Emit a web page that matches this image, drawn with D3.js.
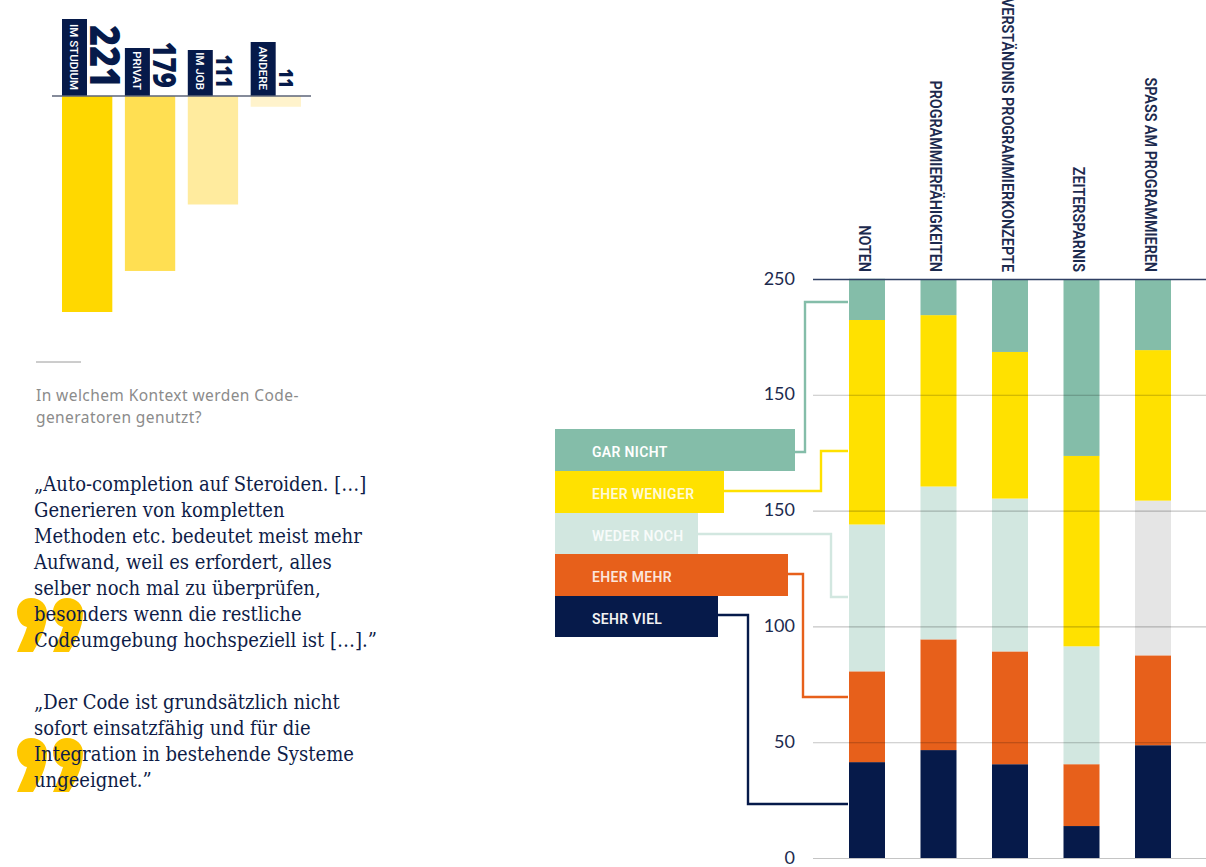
<!DOCTYPE html>
<html lang="de">
<head>
<meta charset="utf-8">
<script src="https://cdn.jsdelivr.net/npm/d3@7/dist/d3.min.js"></script>
<style>
html,body{margin:0;padding:0;background:#fff;overflow:hidden}
svg{display:block}
</style>
</head>
<body>
<svg id="chart" width="1206" height="867"></svg>
<script>
// ---------- data ----------
const contextLabels = ["IM STUDIUM", "PRIVAT", "IM JOB", "ANDERE"];
const contextValues = [221, 179, 111, 11];

const categories = ["NOTEN", "PROGRAMMIERFÄHIGKEITEN", "VERSTÄNDNIS PROGRAMMIERKONZEPTE", "ZEITERSPARNIS", "SPASS AM PROGRAMMIEREN"];
const sehrViel    = [41.4, 46.6, 40.5, 13.8, 48.7];
const eherMehr    = [39.2, 47.8, 48.7, 26.7, 38.8];
const wederNoch   = [63.4, 66.0, 66.0, 50.9, 66.8];
const eherWeniger = [88.3, 74.0, 63.3, 82.2, 65.0];
const garNicht    = [17.8, 15.6, 31.5, 76.4, 30.7];

const yTickValues = [0, 50, 100, 150, 200, 250];
const yTickLabels = ["0", "50", "100", "150", "150", "250"];

const subtitleLines = ["In welchem Kontext werden Code-", "generatoren genutzt?"];
const quoteOne = ["„Auto-completion auf Steroiden. […]", "Generieren von kompletten", "Methoden etc. bedeutet meist mehr", "Aufwand, weil es erfordert, alles", "selber noch mal zu überprüfen,", "besonders wenn die restliche", "Codeumgebung hochspeziell ist […].”"];
const quoteTwo = ["„Der Code ist grundsätzlich nicht", "sofort einsatzfähig und für die", "Integration in bestehende Systeme", "ungeeignet.”"];

// ---------- styles ----------
const NAVY = "#061a4a";
const COND = "'Roboto', sans-serif";
const SERIF = "'DejaVu Serif Condensed', 'DejaVu Serif', serif";
const contextColors = ["#ffd800", "#ffdf52", "#ffeb9e", "#fff3cc"];
const seriesKeys = ["sehrViel", "eherMehr", "wederNoch", "eherWeniger", "garNicht"];
const seriesColors = {sehrViel: NAVY, eherMehr: "#e7601b", wederNoch: "#d2e7e0", eherWeniger: "#ffe100", garNicht: "#84bda9"};
const seriesArrays = {sehrViel, eherMehr, wederNoch, eherWeniger, garNicht};

const svg = d3.select("#chart");

// ---------- top-left context chart ----------
const cx = d3.scaleBand().domain(contextLabels).range([62, 301]).paddingInner(0.2);
const cy = d3.scaleLinear().domain([0, 221]).range([96, 312]);
const cg = svg.append("g");
const boxTop = [19, 48, 50, 42];
const numSize = [42, 31, 22.5, 19.6];
contextValues.forEach((v, i) => {
  const x = cx(contextLabels[i]), w = cx.bandwidth();
  cg.append("rect").attr("x", x).attr("y", cy(0)).attr("width", w).attr("height", cy(v) - cy(0)).attr("fill", contextColors[i]);
  cg.append("rect").attr("x", x).attr("y", boxTop[i]).attr("width", 25).attr("height", 96 - boxTop[i]).attr("fill", NAVY);
  cg.append("text").attr("transform", `translate(${x + 12.5},90) rotate(90)`)
    .attr("text-anchor", "end").attr("dy", "0.35em").attr("fill", "#fff")
    .attr("font-family", COND).attr("font-weight", 500).attr("font-size", 11.5)
    .text(contextLabels[i]);
  cg.append("text").attr("transform", `translate(${x + 28},88) rotate(90) scale(.85,1)`)
    .attr("text-anchor", "end").attr("fill", NAVY)
    .attr("font-family", "'Open Sans', sans-serif").attr("font-weight", 800).attr("font-size", numSize[i])
    .text(v);
});
cg.append("line").attr("x1", 52).attr("x2", 311).attr("y1", 96).attr("y2", 96).attr("stroke", "#5c6478").attr("stroke-width", 1.3);

// ---------- subtitle ----------
svg.append("line").attr("x1", 36).attr("x2", 81).attr("y1", 362).attr("y2", 362).attr("stroke", "#9a9a9a").attr("stroke-width", 1);
svg.append("g").selectAll("text").data(subtitleLines).join("text")
  .attr("x", 36).attr("y", (d, i) => 401 + i * 22)
  .attr("font-family", "'Noto Sans', sans-serif").attr("font-size", 15.5).attr("fill", "#8b8b8b").attr("letter-spacing", 0.42)
  .text(d => d);

// ---------- quotes ----------
function quoteMark(ox, oy) {
  const p = d3.path();
  [0, 36].forEach(dx => {
    const x = ox + dx;
    p.moveTo(x + 14, oy);
    p.bezierCurveTo(x + 24, oy, x + 30, oy + 7, x + 30, oy + 15);
    p.bezierCurveTo(x + 30, oy + 30, x + 22, oy + 44, x + 16, oy + 54);
    p.lineTo(x, oy + 54);
    p.bezierCurveTo(x + 4, oy + 44, x + 8, oy + 36, x + 10, oy + 29);
    p.bezierCurveTo(x + 4, oy + 28, x, oy + 21, x, oy + 14);
    p.bezierCurveTo(x, oy + 6, x + 6, oy, x + 14, oy);
    p.closePath();
  });
  return p.toString();
}
svg.append("path").attr("d", quoteMark(17, 598)).attr("fill", "#ffc800");
svg.append("path").attr("d", quoteMark(17, 738)).attr("fill", "#ffc800");
function quoteText(lines, y0) {
  svg.append("g").selectAll("text").data(lines).join("text")
    .attr("x", 34).attr("y", (d, i) => y0 + i * 26)
    .attr("font-family", SERIF).attr("font-size", 20).attr("fill", "#0e1c47")
    .text(d => d);
}
quoteText(quoteOne, 491);
quoteText(quoteTwo, 709);

// ---------- stacked bars ----------
const x = d3.scaleBand().domain(categories).range([849, 1171]).paddingInner(0.4965);
const y = d3.scaleLinear().domain([0, 250]).range([858, 279]);

const table = categories.map((c, i) => {
  const row = {category: c};
  seriesKeys.forEach(k => row[k] = seriesArrays[k][i]);
  return row;
});
const stacked = d3.stack().keys(seriesKeys)(table);
svg.append("g").selectAll("g").data(stacked).join("g")
  .each(function(layer) {
    d3.select(this).selectAll("rect").data(layer).join("rect")
      .attr("x", d => x(d.data.category))
      .attr("width", x.bandwidth())
      .attr("y", d => y(d[1]))
      .attr("height", d => y(d[0]) - y(d[1]))
      .attr("fill", d => (layer.key === "wederNoch" && d.data.category === categories[4]) ? "#e5e5e5" : seriesColors[layer.key]);
  });

// axis drawn over the bars: the grid lines show faintly through the coloured segments
const yAxis = d3.axisLeft(y).tickValues(yTickValues)
  .tickFormat((d, i) => yTickLabels[i]).tickSize(-393).tickPadding(18);
const gy = svg.append("g").attr("transform", "translate(813,0)").call(yAxis);
gy.select(".domain").remove();
gy.selectAll(".tick line")
  .attr("stroke", d => d === 250 ? "#2f3f63" : "#000")
  .attr("stroke-opacity", d => d === 250 ? 1 : 0.23)
  .attr("stroke-width", d => d === 250 ? 1.6 : 1.1);
gy.selectAll(".tick text").attr("font-family", "'Lato', sans-serif").attr("font-size", 18).attr("dy", "0.28em").attr("fill", "#1c2a4e");

// category labels
svg.append("g").selectAll("text").data(categories).join("text")
  .attr("transform", d => `translate(${x(d) + x.bandwidth() / 2 - 2.5},272) rotate(90) scale(.87,1)`)
  .attr("text-anchor", "end").attr("dy", "0.35em")
  .attr("font-family", COND).attr("font-weight", 600).attr("font-size", 16.5).attr("fill", "#1c2a4e")
  .text(d => d);

// ---------- legend + connectors ----------
const legendItems = [
  {key: "garNicht", label: "GAR NICHT", w: 240, top: 429, h: 42, path: [[795, 452], [805, 452], [805, 302], [848, 302]]},
  {key: "eherWeniger", label: "EHER WENIGER", w: 169, top: 471, h: 42, path: [[724, 491], [821, 491], [821, 451], [848, 451]]},
  {key: "wederNoch", label: "WEDER NOCH", w: 143, top: 513, h: 41, path: [[698, 534], [831, 534], [831, 597], [848, 597]]},
  {key: "eherMehr", label: "EHER MEHR", w: 233, top: 554, h: 42, path: [[788, 574], [803, 574], [803, 697], [848, 697]]},
  {key: "sehrViel", label: "SEHR VIEL", w: 163, top: 596, h: 41, path: [[718, 615], [748, 615], [748, 804], [848, 804]]}
];
const lineGen = d3.line();
const lg = svg.append("g");
legendItems.forEach(it => {
  lg.append("path").attr("d", lineGen(it.path)).attr("fill", "none")
    .attr("stroke", seriesColors[it.key]).attr("stroke-width", 2.4);
  lg.append("rect").attr("x", 555).attr("y", it.top).attr("width", it.w).attr("height", it.h).attr("fill", seriesColors[it.key]);
  lg.append("text").attr("transform", `translate(592,${it.top + 28}) scale(.9,1)`)
    .attr("font-family", COND).attr("font-weight", 600).attr("font-size", 15.5)
    .attr("letter-spacing", 0.4).attr("fill", it.key === "sehrViel" ? "#f2f2f2" : "#fff")
    .attr("fill-opacity", it.key === "sehrViel" || it.key === "garNicht" ? 1 : 0.85)
    .text(it.label);
});
</script>
</body>
</html>
